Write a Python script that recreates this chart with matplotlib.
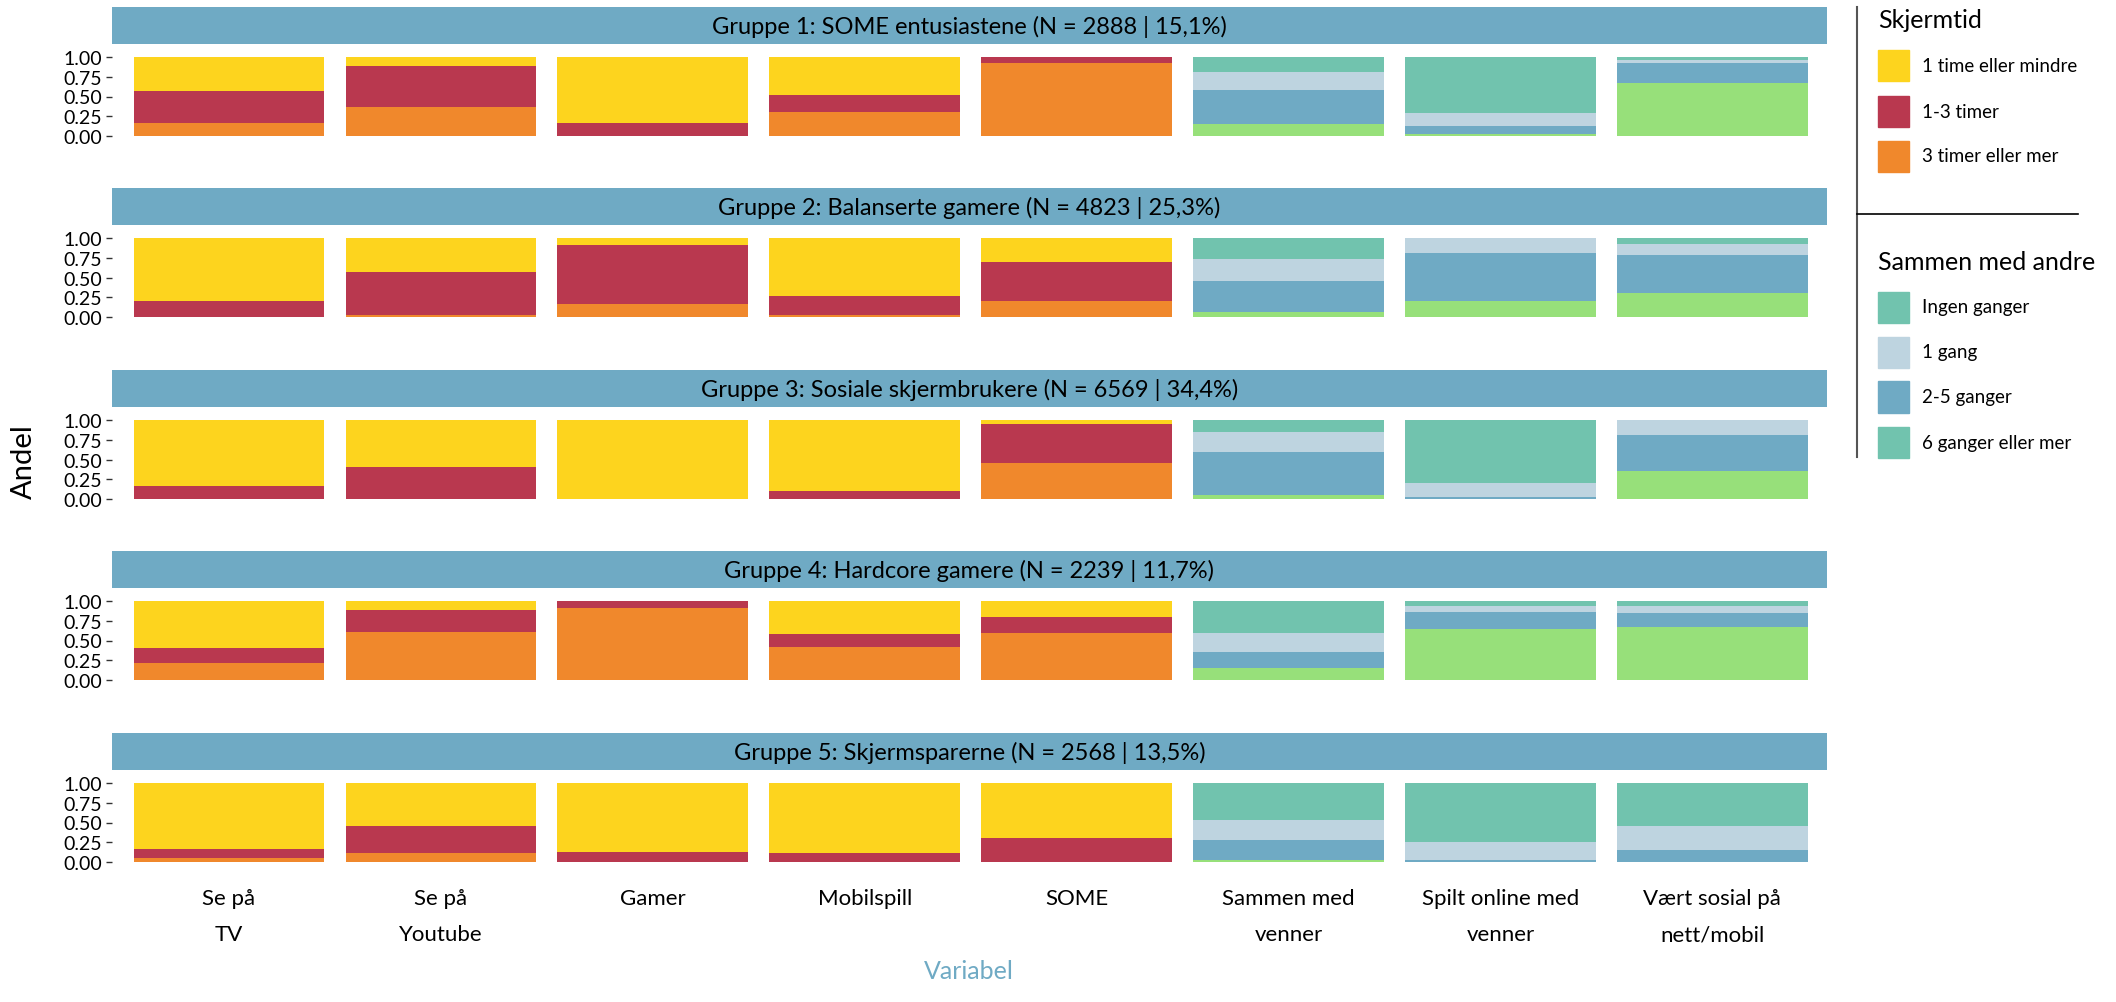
import numpy as np
import matplotlib
matplotlib.use("Agg")
import matplotlib.pyplot as plt
from matplotlib.patches import Rectangle
from matplotlib.lines import Line2D

plt.rcParams['font.family'] = ['Lato', 'DejaVu Sans']

variabler = ["Se på\nTV", "Se på\nYoutube", "Gamer", "Mobilspill", "SOME",
             "Sammen med\nvenner", "Spilt online med\nvenner", "Vært sosial på\nnett/mobil"]

grupper = ["Gruppe 1: SOME entusiastene (N = 2888 | 15,1%)",
           "Gruppe 2: Balanserte gamere (N = 4823 | 25,3%)",
           "Gruppe 3: Sosiale skjermbrukere (N = 6569 | 34,4%)",
           "Gruppe 4: Hardcore gamere (N = 2239 | 11,7%)",
           "Gruppe 5: Skjermsparerne (N = 2568 | 13,5%)"]

# Skjermtid (first five variables), one row per group
tid_3_pluss = [[0.16, 0.37, 0.00, 0.30, 0.92],
               [0.00, 0.03, 0.16, 0.03, 0.20],
               [0.00, 0.00, 0.00, 0.00, 0.45],
               [0.21, 0.61, 0.91, 0.42, 0.59],
               [0.05, 0.12, 0.00, 0.00, 0.00]]
tid_1_3 = [[0.41, 0.52, 0.16, 0.22, 0.08],
           [0.20, 0.54, 0.75, 0.24, 0.50],
           [0.16, 0.40, 0.00, 0.10, 0.50],
           [0.20, 0.28, 0.09, 0.16, 0.21],
           [0.11, 0.34, 0.13, 0.12, 0.30]]
tid_1_minus = [[0.43, 0.11, 0.84, 0.48, 0.00],
               [0.80, 0.43, 0.09, 0.73, 0.30],
               [0.84, 0.60, 1.00, 0.90, 0.05],
               [0.59, 0.11, 0.00, 0.42, 0.20],
               [0.84, 0.54, 0.87, 0.88, 0.70]]

# Sammen med andre (last three variables)
sos_6_pluss = [[0.15, 0.03, 0.67],
               [0.06, 0.20, 0.30],
               [0.05, 0.00, 0.35],
               [0.15, 0.64, 0.67],
               [0.03, 0.00, 0.00]]
sos_2_5 = [[0.43, 0.10, 0.25],
           [0.40, 0.61, 0.48],
           [0.55, 0.03, 0.46],
           [0.21, 0.22, 0.18],
           [0.25, 0.03, 0.15]]
sos_1 = [[0.23, 0.16, 0.04],
         [0.28, 0.19, 0.15],
         [0.25, 0.17, 0.19],
         [0.23, 0.08, 0.09],
         [0.25, 0.22, 0.30]]
sos_ingen = [[0.19, 0.71, 0.04],
             [0.26, 0.00, 0.07],
             [0.15, 0.80, 0.00],
             [0.41, 0.06, 0.06],
             [0.47, 0.75, 0.55]]

tid_labels = ["1 time eller mindre", "1-3 timer", "3 timer eller mer"]
sos_labels = ["Ingen ganger", "1 gang", "2-5 ganger", "6 ganger eller mer"]

YELLOW = "#FDD41E"
RED = "#B9384F"
ORANGE = "#F0882C"
TEAL = "#71C3AE"
LBLUE = "#BED4E0"
BLUE = "#6FAAC4"
GREEN = "#97E07A"

W, H = 2116, 1003
fig = plt.figure(figsize=(W / 100, H / 100), dpi=100)


def fx(x):
    return x / W


def fy(y):
    return 1 - y / H


left, right = 112, 1827
xlim = (-0.552, 7.541)
head_tops = [8, 189, 371, 552, 734]
head_h = 37
x = np.arange(len(variabler))

for g, top in enumerate(head_tops):
    # strip header
    hax = fig.add_axes([fx(left), fy(top + head_h), (right - left) / W, head_h / H])
    hax.set_facecolor(BLUE)
    hax.set_xticks([])
    hax.set_yticks([])
    for s in hax.spines.values():
        s.set_visible(False)
    hax.text(0.5, 0.5, grupper[g], ha='center', va='center', fontsize=17,
             color='black', transform=hax.transAxes)

    # panel: bars span 0..1 over 79 px, 5% expansion each side
    b_top = top + 50
    unit = 79
    p_top = b_top - 0.05 * unit
    p_h = 1.1 * unit
    ax = fig.add_axes([fx(left), fy(p_top + p_h), (right - left) / W, p_h / H])
    ax.set_xlim(*xlim)
    ax.set_ylim(-0.05, 1.05)

    xt = x[:5]
    o = np.array(tid_3_pluss[g])
    r = np.array(tid_1_3[g])
    yv = np.array(tid_1_minus[g])
    ax.bar(xt, o, width=0.9, color=ORANGE)
    ax.bar(xt, r, width=0.9, bottom=o, color=RED)
    ax.bar(xt, yv, width=0.9, bottom=o + r, color=YELLOW)

    xs = x[5:]
    gr = np.array(sos_6_pluss[g])
    bl = np.array(sos_2_5[g])
    lb = np.array(sos_1[g])
    te = np.array(sos_ingen[g])
    ax.bar(xs, gr, width=0.9, color=GREEN)
    ax.bar(xs, bl, width=0.9, bottom=gr, color=BLUE)
    ax.bar(xs, lb, width=0.9, bottom=gr + bl, color=LBLUE)
    ax.bar(xs, te, width=0.9, bottom=gr + bl + lb, color=TEAL)

    for s in ax.spines.values():
        s.set_visible(False)
    ax.set_yticks([0, 0.25, 0.5, 0.75, 1.0])
    ax.set_yticklabels(["0.00", "0.25", "0.50", "0.75", "1.00"], fontsize=14)
    ax.tick_params(axis='y', length=4, width=1, color='#333333', pad=3)
    if g == len(head_tops) - 1:
        ax.set_xticks(x)
        ax.set_xticklabels(variabler, fontsize=16, linespacing=2.0)
        ax.tick_params(axis='x', length=0, pad=16)
    else:
        ax.set_xticks([])

fig.text(fx(969), fy(972), "Variabel", ha='center', va='center', fontsize=18, color=BLUE)
fig.text(fx(24), fy(462), "Andel", ha='center', va='center', rotation=90, fontsize=21, color='black')

# legend
fig.add_artist(Line2D([fx(1857), fx(1857)], [fy(8), fy(458)], color='#555555', lw=1.5))
fig.add_artist(Line2D([fx(1857), fx(2078)], [fy(215), fy(215)], color='black', lw=1.2))

fig.text(fx(1878), fy(20), "Skjermtid", ha='left', va='center', fontsize=18)
for lab, col, yc in zip(tid_labels, [YELLOW, RED, ORANGE], [66, 112, 157]):
    fig.add_artist(Rectangle((fx(1878), fy(yc + 15.5)), 31 / W, 31 / H, color=col,
                             transform=fig.transFigure))
    fig.text(fx(1922), fy(yc), lab, ha='left', va='center', fontsize=13.5)

fig.text(fx(1878), fy(262), "Sammen med andre", ha='left', va='center', fontsize=18)
# the original legend shows the same teal for the first and last key
for lab, col, yc in zip(sos_labels, [TEAL, LBLUE, BLUE, TEAL], [308, 353, 398, 443]):
    fig.add_artist(Rectangle((fx(1878), fy(yc + 15.5)), 31 / W, 31 / H, color=col,
                             transform=fig.transFigure))
    fig.text(fx(1922), fy(yc), lab, ha='left', va='center', fontsize=13.5)

fig.savefig("out.png", dpi=100)
